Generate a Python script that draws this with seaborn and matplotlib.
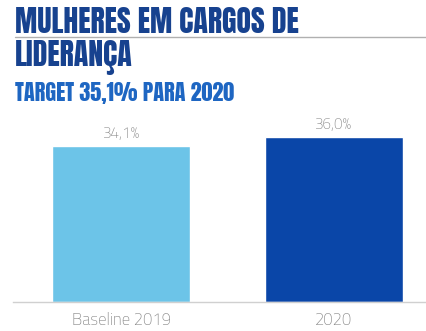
import matplotlib
matplotlib.use("Agg")
import matplotlib.pyplot as plt
import seaborn as sns
import pandas as pd

# Data
categories = ["Baseline 2019", "2020"]
values = [34.1, 36.0]
value_labels = ["34,1%", "36,0%"]
bar_colors = ["#6CC4E8", "#0A46A8"]

title_lines = ["MULHERES EM CARGOS DE", "LIDERANÇA"]
subtitle = "TARGET 35,1% PARA 2020"

sns.set_theme(style="white")
plt.rcParams["font.family"] = ["DejaVu Sans"]

HEAD_FONT = ["Anton", "DejaVu Sans"]
BODY_FONT = ["Titillium Web", "Lato", "DejaVu Sans"]

df = pd.DataFrame({"categoria": categories, "valor": values})

fig = plt.figure(figsize=(4.27, 3.31), dpi=100)
ax = fig.add_axes([0.0304, 0.0876, 0.9696, 0.58])

sns.barplot(data=df, x="categoria", y="valor", hue="categoria",
            palette=bar_colors, width=0.65, legend=False, ax=ax,
            saturation=1)

ax.set_xlim(-0.51, 1.44)
ax.set_ylim(0, 42.0)
ax.set_xlabel("")
ax.set_ylabel("")
ax.set_yticks([])
for side in ["left", "right", "top"]:
    ax.spines[side].set_visible(False)
ax.spines["bottom"].set_color("#d0d0d0")
ax.spines["bottom"].set_linewidth(1.0)
ax.tick_params(axis="x", length=0, pad=7, labelsize=12, labelcolor="#858585")
for lbl in ax.get_xticklabels():
    lbl.set_fontfamily(BODY_FONT)
    lbl.set_fontweight("light")

for i, (v, t) in enumerate(zip(values, value_labels)):
    ax.annotate(t, (i, v), xytext=(0, 3), textcoords="offset points",
                ha="center", va="bottom", fontsize=11, color="#858585",
                family=BODY_FONT, fontweight="light")

# Header
title_kw = dict(color="#17428F", family=HEAD_FONT)
fig.text(0.035, 1 - 33 / 331, title_lines[0], fontsize=21.5, va="baseline",
         ha="left", **title_kw)
fig.text(0.035, 1 - 66 / 331, title_lines[1], fontsize=21.5, va="baseline",
         ha="left", **title_kw)
fig.text(0.035, 1 - 101 / 331, subtitle, fontsize=16, va="baseline",
         ha="left", color="#1E66C2", family=HEAD_FONT)
fig.add_artist(plt.Line2D([0.035, 1.0], [1 - 37 / 331, 1 - 37 / 331],
                          transform=fig.transFigure, color="#b0b0b0",
                          linewidth=1.0))

fig.savefig("out.png", dpi=100)
